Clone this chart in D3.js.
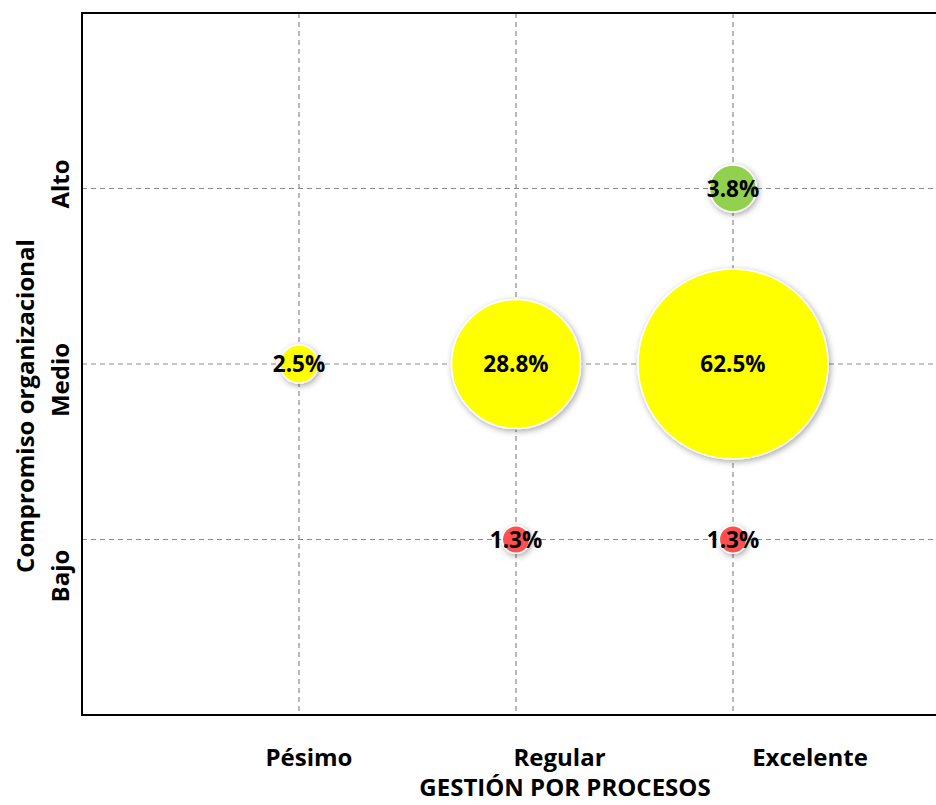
<!DOCTYPE html>
<html>
<head>
<meta charset="utf-8">
<script src="https://cdn.jsdelivr.net/npm/d3@7"></script>
<style>
  html, body { margin: 0; padding: 0; background: #ffffff; }
  svg { display: block; }
  text { font-family: "Open Sans", "DejaVu Sans", sans-serif; font-weight: bold; fill: #000; }
</style>
</head>
<body>
<svg id="chart" width="936" height="805"></svg>
<script>
// Categories of each axis
const gestionLevels = ["Pésimo", "Regular", "Excelente"];
const compromisoLevels = ["Bajo", "Medio", "Alto"];

// One entry per bubble: x category, y category, share of respondents (%)
const bubbleGestion = ["Pésimo", "Regular", "Excelente", "Regular", "Excelente", "Excelente"];
const bubbleCompromiso = ["Medio", "Medio", "Medio", "Bajo", "Bajo", "Alto"];
const bubblePercent = [2.5, 28.8, 62.5, 1.3, 1.3, 3.8];

// Fill per commitment level
const levelColors = ["#FF5050", "#FFFF00", "#92D050"];

const xTitle = "GESTIÓN POR PROCESOS";
const yTitle = "Compromiso organizacional";

const svg = d3.select("#chart");
const W = 936, H = 805;

// Plot frame (right edge runs past the page)
const plot = { left: 82, top: 13, right: 950, bottom: 715 };

const x = d3.scaleLinear().domain([0, 4]).range([plot.left, plot.right]);
const y = d3.scaleLinear().domain([0, 4]).range([plot.bottom, plot.top]);
const r = d3.scaleSqrt().domain([0, 62.5]).range([0, 95]);
const color = d3.scaleOrdinal().domain(compromisoLevels).range(levelColors);
const xIndex = d => gestionLevels.indexOf(d) + 1;
const yIndex = d => compromisoLevels.indexOf(d) + 1;

// Category label placement
const xLabel = d3.scalePoint().domain(gestionLevels).range([309, 810]);
const yLabel = d3.scalePoint().domain(compromisoLevels).range([576, 184]);

const defs = svg.append("defs");
const shadow = defs.append("filter").attr("id", "bubbleShadow")
  .attr("x", "-30%").attr("y", "-30%").attr("width", "160%").attr("height", "160%");
shadow.append("feDropShadow")
  .attr("dx", 1.5).attr("dy", 2).attr("stdDeviation", 3)
  .attr("flood-color", "#000").attr("flood-opacity", 0.35);

const clip = defs.append("clipPath").attr("id", "plotClip");
clip.append("rect").attr("x", plot.left).attr("y", plot.top)
  .attr("width", W - plot.left).attr("height", plot.bottom - plot.top);

// Dashed grid lines at each category
const grid = svg.append("g").attr("clip-path", "url(#plotClip)");
grid.selectAll("line.vx").data(gestionLevels).join("line")
  .attr("class", "vx")
  .attr("x1", d => x(xIndex(d))).attr("x2", d => x(xIndex(d)))
  .attr("y1", y(4)).attr("y2", y(0))
  .attr("stroke", "#8a8a8a").attr("stroke-width", 1.2).attr("stroke-dasharray", "5,4");
grid.selectAll("line.hy").data(compromisoLevels).join("line")
  .attr("class", "hy")
  .attr("x1", x(0)).attr("x2", x(4))
  .attr("y1", d => y(yIndex(d))).attr("y2", d => y(yIndex(d)))
  .attr("stroke", "#8a8a8a").attr("stroke-width", 1.2).attr("stroke-dasharray", "5,4");

// Frame: top, left, bottom
svg.append("path")
  .attr("d", `M${x(4)},${y(4)} L${x(0)},${y(4)} L${x(0)},${y(0)} L${x(4)},${y(0)}`)
  .attr("fill", "none").attr("stroke", "#000").attr("stroke-width", 2);

// Bubbles
const bubbles = d3.range(bubblePercent.length).map(i => ({
  gx: bubbleGestion[i], cy: bubbleCompromiso[i], v: bubblePercent[i]
}));

svg.append("g").selectAll("circle").data(bubbles).join("circle")
  .attr("cx", d => x(xIndex(d.gx)))
  .attr("cy", d => y(yIndex(d.cy)))
  .attr("r", d => r(d.v))
  .attr("fill", d => color(d.cy))
  .attr("stroke", "#ffffff").attr("stroke-width", 1.5)
  .attr("filter", "url(#bubbleShadow)");

// Value labels
svg.append("g").selectAll("text").data(bubbles).join("text")
  .attr("x", d => x(xIndex(d.gx)))
  .attr("y", d => y(yIndex(d.cy)))
  .attr("dy", "0.36em")
  .attr("text-anchor", "middle")
  .style("font-size", "22.5px")
  .text(d => d3.format(".1f")(d.v) + "%");

// X category labels
svg.append("g").selectAll("text").data(gestionLevels).join("text")
  .attr("x", d => xLabel(d)).attr("y", 766)
  .attr("text-anchor", "middle")
  .style("font-size", "24px")
  .text(d => d);

svg.append("text")
  .attr("x", 565).attr("y", 796)
  .attr("text-anchor", "middle")
  .style("font-size", "24px")
  .text(xTitle);

// Y category labels (rotated)
svg.append("g").selectAll("text").data(compromisoLevels).join("text")
  .attr("transform", d => `translate(69,${yLabel(d)}) rotate(-90)`)
  .attr("text-anchor", "middle")
  .style("font-size", "24px")
  .text(d => d);

svg.append("text")
  .attr("transform", "translate(34,406) rotate(-90)")
  .attr("text-anchor", "middle")
  .style("font-size", "24px")
  .text(yTitle);
</script>
</body>
</html>
